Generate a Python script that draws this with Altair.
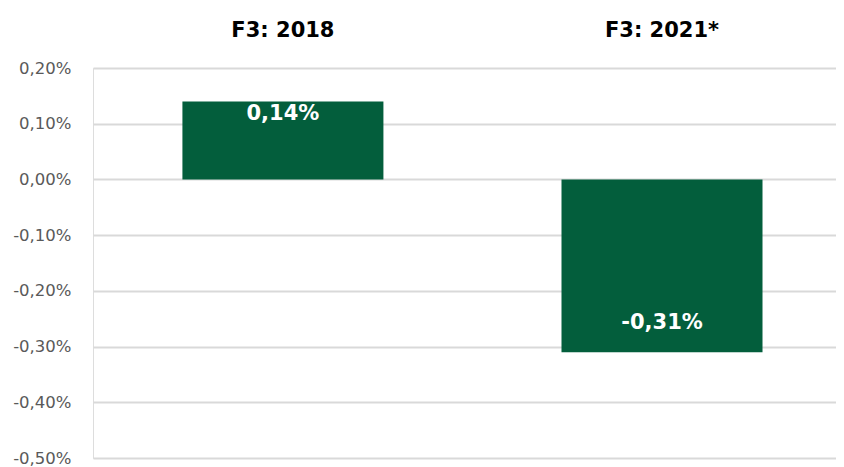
import altair as alt
import pandas as pd

categories = ["F3: 2018", "F3: 2021*"]
values = [0.0014, -0.0031]
labels = [f"{v*100:.2f}%".replace(".", ",") for v in values]
y_ticks = [-0.005, -0.004, -0.003, -0.002, -0.001, 0.0, 0.001, 0.002]

df = pd.DataFrame({"cat": categories, "val": values, "lab": labels})

GREEN = "#035E3C"
FONT = "DejaVu Sans"

x_enc = alt.X(
    "cat:N",
    sort=categories,
    title=None,
    scale=alt.Scale(paddingInner=0.46, paddingOuter=0.21, align=0.55),
    axis=alt.Axis(
        orient="top", domain=False, ticks=False, tickSize=0, labelAngle=0,
        labelFont=FONT, labelFontWeight="bold", labelFontSize=21,
        labelColor="#000000", labelPadding=28,
    ),
)
y_scale = alt.Scale(domain=[-0.005, 0.002], nice=False, zero=False)

bars = alt.Chart(df).mark_bar(color=GREEN, size=201).encode(
    x=x_enc,
    y=alt.Y(
        "val:Q",
        scale=y_scale,
        title=None,
        axis=alt.Axis(
            values=y_ticks, domain=False, ticks=False, tickSize=0,
            labelExpr="replace(replace(format(datum.value, '.2%'), '.', ','), '\u2212', '-')",
            labelFont=FONT, labelFontSize=16.5, labelColor="#595959",
            labelPadding=22, gridColor="#d9d9d9", gridWidth=2,
        ),
    ),
)

pos_text = alt.Chart(df).transform_filter("datum.val >= 0").mark_text(
    color="white", font=FONT, fontWeight="bold", fontSize=21,
    baseline="top", dy=2,
).encode(x=alt.X("cat:N", sort=categories), y=alt.Y("val:Q", scale=y_scale), text="lab:N")

neg_text = alt.Chart(df).transform_filter("datum.val < 0").mark_text(
    color="white", font=FONT, fontWeight="bold", fontSize=21,
    baseline="bottom", dy=-19,
).encode(x=alt.X("cat:N", sort=categories), y=alt.Y("val:Q", scale=y_scale), text="lab:N")

chart = alt.layer(bars, pos_text, neg_text).properties(
    width=743, height=390,
    autosize=alt.AutoSizeParams(type="none"),
    padding={"left": 85, "top": 60, "right": 0, "bottom": 9},
).configure_view(stroke=None).configure(background="white")

chart.save("out.html", embed_options={"renderer": "svg", "actions": False})
